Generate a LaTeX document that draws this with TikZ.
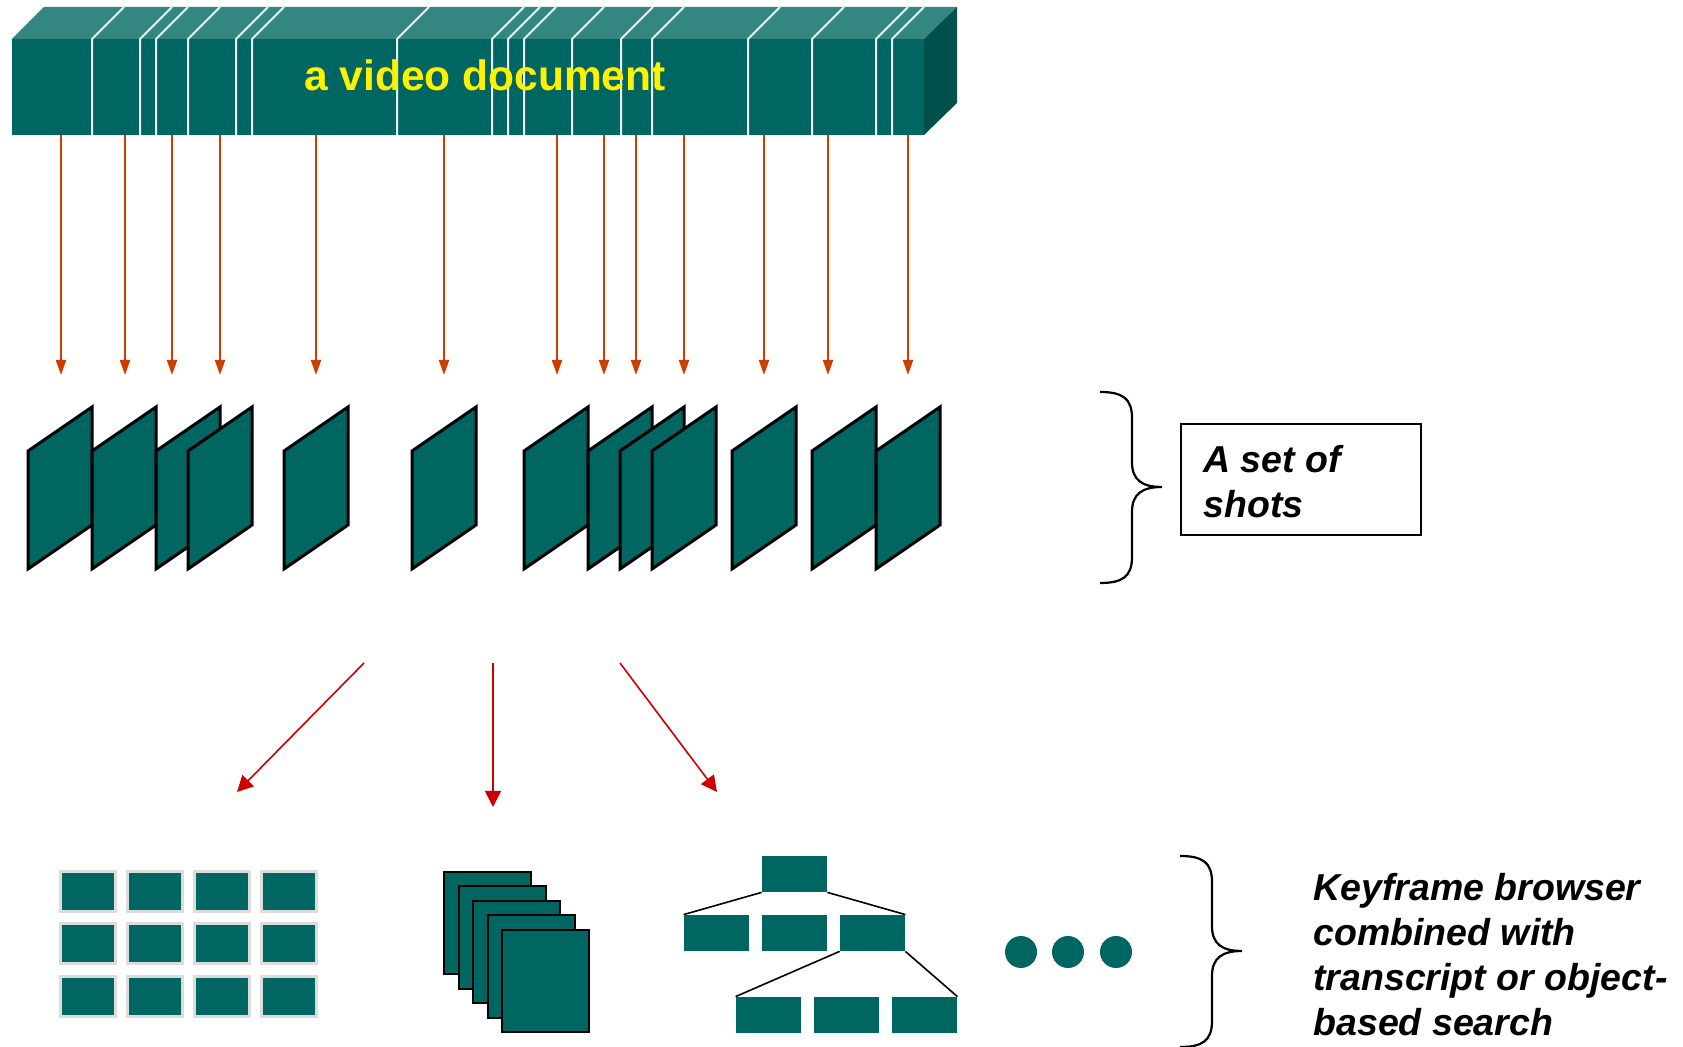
\documentclass[tikz,border=0pt]{standalone}
\usepackage{fontspec}
\setmainfont{Liberation Sans}
\usetikzlibrary{arrows.meta}
\definecolor{tealfront}{RGB}{0,102,98}
\definecolor{tealtop}{RGB}{52,134,129}
\definecolor{tealside}{RGB}{0,80,76}
\definecolor{arrowA}{RGB}{208,60,0}
\definecolor{arrowB}{RGB}{204,0,0}
\definecolor{thumbgray}{RGB}{220,220,220}
\definecolor{divwhite}{RGB}{235,240,240}
\begin{document}
\begin{tikzpicture}[x=0.5pt,y=-0.5pt,
  divider/.style={draw=divwhite,line width=1pt},
  toparrow/.style={draw=arrowA,line width=1pt,-{Triangle[length=7.5pt,width=5pt]}},
  botarrow/.style={draw=arrowB,line width=0.8pt,-{Triangle[length=8pt,width=8pt]}},
  shotframe/.style={fill=tealfront,draw=black,line width=1.5pt,line join=miter},
  thumb/.style={fill=tealfront,draw=thumbgray,line width=1.5pt},
  pagebox/.style={fill=tealfront,draw=black,line width=1pt},
  treebox/.style={fill=tealfront,draw=none,minimum width=32.5pt,minimum height=18pt,inner sep=0pt},
  treeline/.style={draw=black,line width=0.8pt},
  bracepath/.style={draw=black,line width=1.1pt},
  labeltext/.style={font=\fontsize{18.75}{22.5}\selectfont\bfseries\itshape,align=left,inner sep=0pt,anchor=north west}
]
\useasboundingbox (0,0) rectangle (1683,1047);

% ---- video document bar ----
\fill[tealtop] (12,39) -- (44,7) -- (957,7) -- (924,39) -- cycle;
\fill[tealside] (924,39) -- (957,7) -- (957,103) -- (924,135) -- cycle;
\fill[tealfront] (12,39) rectangle (924,135);
\foreach \x in {92,140,156,188,236,252,397,492,508,524,572,621,652,748,812,876,892}
  \draw[divider] (\x,135) -- (\x,39) -- ++(32,-32);
\node[anchor=base west,inner sep=0pt,text=yellow,font=\fontsize{21.25}{25}\selectfont\bfseries] (title) at (304,91) {a video document};

% ---- arrows to shots ----
\foreach \x [count=\i] in {61,125,172,220,316,444,557,604,636,684,764,828,908}{
  \coordinate (s\i) at (\x,135);
  \coordinate (e\i) at (\x,375);
  \draw[toparrow] (s\i) -- (e\i);
}

% ---- shots ----
\foreach \L in {28,92,156,188,284,412,524,588,620,652,732,812,876}
  \filldraw[shotframe] (\L,451) -- ++(64,-44) -- ++(0,118) -- ++(-64,44) -- cycle;

% ---- brace and box: set of shots ----
\draw[bracepath] (1100,392) .. controls (1122,392) and (1132,398) .. (1132,418) -- (1132,462)
  .. controls (1132,480) and (1142,487) .. (1162,487)
  .. controls (1142,487) and (1132,494) .. (1132,512) -- (1132,557)
  .. controls (1132,577) and (1122,583) .. (1100,583);
\node[draw=black,line width=1pt,minimum width=120pt,minimum height=55.5pt,anchor=north west,inner sep=0pt] (setbox) at (1180,423) {};
\node[labeltext] (settext) at (1203,445) {A set of\\shots};

% ---- lower arrows ----
\coordinate (la1) at (364,663); \coordinate (lb1) at (237,792);
\coordinate (la2) at (493,663); \coordinate (lb2) at (493,807);
\coordinate (la3) at (620,663); \coordinate (lb3) at (717,792);
\draw[botarrow] (la1) -- (lb1);
\draw[botarrow] (la2) -- (lb2);
\draw[botarrow] (la3) -- (lb3);

% ---- thumbnail grid ----
\foreach \cx in {60,127,194,261}
  \foreach \cy in {872,924,976}
    \filldraw[thumb] (\cx,\cy) rectangle ++(55,40);

% ---- stack of pages ----
\foreach \i in {0,...,4}
  \filldraw[pagebox] (444+14.5*\i,872+14.5*\i) rectangle ++(87,102);

% ---- tree ----
\node[treebox] (root) at (794.5,874) {};
\node[treebox] (ta) at (716.5,933) {};
\node[treebox] (tb) at (794.5,933) {};
\node[treebox] (tc) at (872.5,933) {};
\node[treebox] (ua) at (768.5,1015) {};
\node[treebox] (ub) at (846.5,1015) {};
\node[treebox] (uc) at (924.5,1015) {};
\draw[treeline] (root.south west) -- (ta.north west);
\draw[treeline] (root.south east) -- (tc.north east);
\draw[treeline] (tc.south west) -- (ua.north west);
\draw[treeline] (tc.south east) -- (uc.north east);

% ---- dots ----
\foreach \dx in {1021,1068,1116}
  \fill[tealfront] (\dx,952) circle[radius=8pt];

% ---- brace and text: keyframe browser ----
\draw[bracepath] (1180,856) .. controls (1202,856) and (1212,862) .. (1212,882) -- (1212,926)
  .. controls (1212,944) and (1222,951) .. (1242,951)
  .. controls (1222,951) and (1212,958) .. (1212,976) -- (1212,1021)
  .. controls (1212,1041) and (1202,1047) .. (1180,1047);
\node[labeltext] (kftext) at (1313,873) {Keyframe browser\\combined with\\transcript or object-\\based search};
\end{tikzpicture}
\end{document}
